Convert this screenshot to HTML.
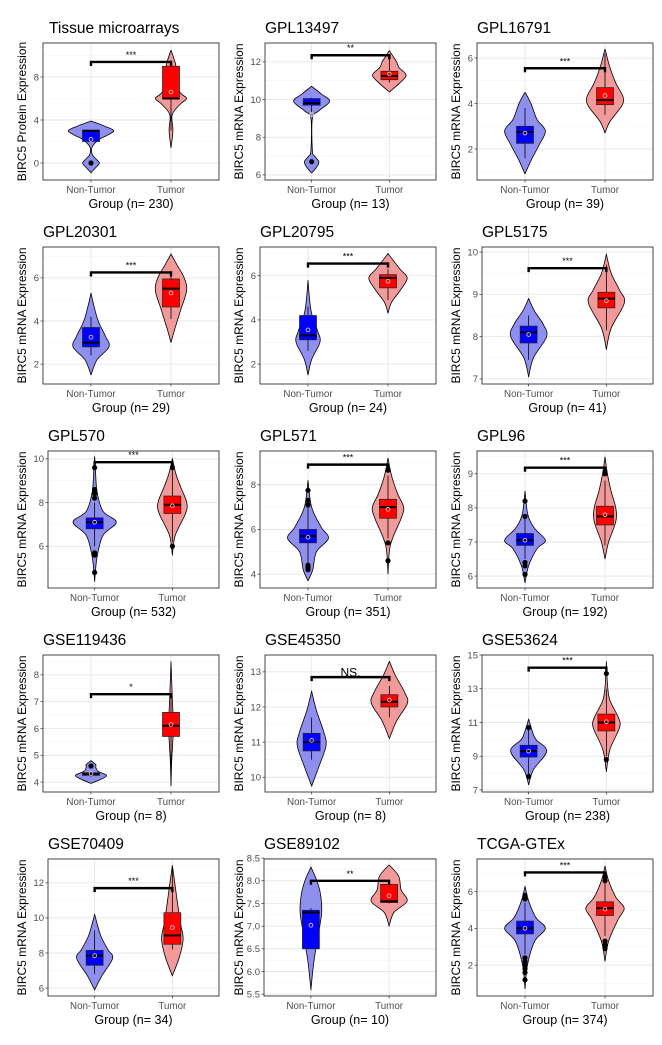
<!DOCTYPE html>
<html><head><meta charset="utf-8">
<style>
html,body{margin:0;padding:0;background:#fff;}
svg{display:block;font-family:"Liberation Sans",Arial,sans-serif;}
</style></head>
<body>
<svg id="fig" width="662" height="1045" viewBox="0 0 662 1045" xmlns="http://www.w3.org/2000/svg"></svg>
<script>
// ---- data ----
const titles = ["Tissue microarrays","GPL13497","GPL16791","GPL20301","GPL20795","GPL5175","GPL570","GPL571","GPL96","GSE119436","GSE45350","GSE53624","GSE70409","GSE89102","TCGA-GTEx"];
const sampleN = [230,13,39,29,24,41,532,351,192,8,8,238,34,10,374];
const yDomains = [[-1.58,11.16],[5.73,13.0],[0.64,6.66],[1.08,7.43],[1.1,7.3],[6.88,10.12],[4.09,10.36],[3.38,9.51],[5.65,9.67],[3.63,8.74],[9.58,13.48],[6.88,15.0],[5.55,13.36],[5.46,8.48],[0.32,7.78]];
const yTicks = [[0,4,8],[6,8,10,12],[2,4,6],[2,4,6],[2,4,6],[7,8,9,10],[6,8,10],[4,6,8],[6,7,8,9],[4,5,6,7,8],[10,11,12,13],[7,9,11,13,15],[6,8,10,12],[5.5,6,6.5,7,7.5,8,8.5],[2,4,6]];
const tickDecimals = [0,0,0,0,0,0,0,0,0,0,0,0,0,1,0];
const sigLabels = ["***","**","***","***","***","***","***","***","***","*","NS.","***","***","**","***"];
const bracketY = [9.4,12.35,5.55,6.25,6.55,9.62,9.85,8.9,9.18,7.28,12.85,14.25,11.7,8.0,7.05];
// violin knots: [value, relative density]
const violinNT = [
 [[-0.9,0],[-0.3,0.25],[0,0.35],[0.4,0.2],[0.8,0.05],[1.5,0.05],[2.2,0.35],[2.6,0.7],[3,0.95],[3.4,0.6],[3.9,0]],
 [[6.1,0],[6.4,0.2],[6.7,0.3],[7.0,0.12],[7.3,0.03],[9,0.03],[9.4,0.3],[9.9,0.75],[10.3,0.4],[10.7,0]],
 [[0.9,0],[1.5,0.25],[2.2,0.6],[2.8,0.85],[3.3,0.5],[4,0.25],[4.5,0]],
 [[1.5,0],[2.2,0.25],[2.8,0.75],[3.3,0.6],[4,0.3],[4.8,0.1],[5.3,0]],
 [[1.5,0],[2.2,0.15],[3,0.5],[3.5,0.4],[4.3,0.15],[5,0.06],[5.8,0]],
 [[7.05,0],[7.5,0.2],[8.0,0.75],[8.3,0.6],[8.6,0.25],[8.9,0]],
 [[4.4,0],[5.5,0.1],[6.5,0.35],[7.1,0.9],[7.6,0.35],[8.5,0.1],[9.6,0.03],[10.1,0]],
 [[3.7,0],[4.2,0.2],[5,0.35],[5.6,0.85],[6.1,0.55],[7,0.15],[8.2,0]],
 [[5.8,0],[6.3,0.15],[6.8,0.5],[7.05,0.85],[7.4,0.4],[7.8,0.12],[8.5,0]],
 [[3.95,0],[4.1,0.4],[4.25,0.65],[4.4,0.3],[4.55,0.2],[4.65,0.2],[4.8,0]],
 [[9.75,0],[10.3,0.3],[10.9,0.6],[11.3,0.5],[11.9,0.2],[12.45,0]],
 [[7.3,0],[8.2,0.2],[9.3,0.75],[10,0.3],[10.5,0.15],[11.2,0]],
 [[5.9,0],[6.7,0.3],[7.7,0.75],[8.2,0.55],[9.0,0.25],[10.2,0]],
 [[5.6,0],[6.2,0.12],[6.8,0.3],[7.3,0.45],[7.7,0.4],[8.0,0.25],[8.3,0]],
 [[0.7,0],[2,0.1],[3.3,0.4],[4,0.85],[4.6,0.45],[5.5,0.15],[6.3,0]]
];
const violinT = [
 [[1.4,0],[3,0.08],[4.5,0.05],[5.5,0.4],[6,0.65],[6.5,0.4],[7.5,0.15],[9,0.2],[9.5,0.15],[10.5,0]],
 [[10.4,0],[10.9,0.45],[11.3,0.7],[11.7,0.4],[12,0.3],[12.3,0.15],[12.6,0]],
 [[2.7,0],[3.2,0.2],[3.9,0.7],[4.3,0.75],[4.9,0.45],[5.6,0.2],[6.4,0]],
 [[3.0,0],[3.6,0.15],[4.5,0.4],[5.4,0.65],[6.0,0.55],[6.6,0.25],[7.1,0]],
 [[4.3,0],[4.8,0.15],[5.4,0.55],[5.9,0.8],[6.3,0.5],[7.0,0]],
 [[7.7,0],[8.2,0.2],[8.8,0.75],[9.1,0.55],[9.5,0.2],[9.95,0]],
 [[5.6,0],[6.5,0.12],[7.5,0.55],[8,0.6],[8.7,0.35],[9.3,0.15],[10.0,0]],
 [[4.0,0],[5.3,0.1],[6.5,0.55],[7.0,0.65],[7.6,0.4],[8.4,0.15],[9.2,0]],
 [[6.5,0],[7.0,0.15],[7.6,0.45],[8.0,0.45],[8.5,0.25],[9.0,0.1],[9.5,0]],
 [[3.85,0],[4.8,0.03],[5.6,0.08],[6.2,0.1],[7,0.06],[7.5,0.04],[8.5,0]],
 [[11.1,0],[11.6,0.3],[12.1,0.75],[12.4,0.65],[12.9,0.25],[13.3,0]],
 [[8.1,0],[9.4,0.15],[10.7,0.55],[11.3,0.5],[12.3,0.15],[13.2,0.05],[14.6,0]],
 [[6.7,0],[7.8,0.3],[8.8,0.45],[9.6,0.35],[10.5,0.25],[11.5,0.15],[13,0]],
 [[7.0,0],[7.3,0.2],[7.55,0.75],[7.8,0.5],[8.1,0.4],[8.35,0]],
 [[2.2,0],[3.3,0.15],[4.5,0.55],[5.1,0.8],[5.7,0.45],[6.6,0.15],[7.4,0]]
];
// box stats: [whiskerLo, q1, median, q3, whiskerHi, mean]
const boxNT = [[2,2,3,3,3,2.2],[9.3,9.7,9.8,10.05,10.1,9.2],[1.6,2.25,2.75,3.0,3.8,2.7],[2.4,2.8,3.0,3.7,4.2,3.25],[2.6,3.1,3.3,4.2,4.6,3.55],[7.45,7.85,8.1,8.25,8.5,8.05],[6.0,6.8,7.1,7.3,8.0,7.1],[4.5,5.4,5.7,6.0,7.0,5.65],[6.5,6.9,7.05,7.25,7.7,7.05],[4.2,4.25,4.3,4.35,4.4,4.32],[10.5,10.75,11.0,11.25,11.7,11.05],[7.9,8.95,9.3,9.65,10.6,9.3],[6.8,7.3,7.85,8.15,9.3,7.85],[6.5,6.5,7.3,7.35,7.4,7.02],[2.6,3.7,4.0,4.4,5.4,4.0]];
const boxT = [[3,6,6,9,9,6.6],[10.9,11.05,11.25,11.5,12.3,11.35],[3.5,3.95,4.15,4.7,6.2,4.35],[4.1,4.65,5.5,5.95,6.3,5.3],[4.9,5.45,5.9,6.05,6.3,5.75],[8.15,8.68,8.9,9.05,9.7,8.85],[6.2,7.5,7.9,8.3,9.5,7.85],[5.6,6.5,7.0,7.35,8.4,6.9],[6.9,7.5,7.75,8.05,8.8,7.8],[4.5,5.7,6.1,6.6,7.3,6.15],[11.7,12.0,12.15,12.35,12.6,12.2],[9.0,10.5,11.0,11.5,13.0,11.05],[8.2,8.5,9.0,10.3,12.9,9.45],[7.5,7.52,7.55,7.92,8.0,7.67],[3.6,4.7,5.1,5.45,6.5,5.05]];
const outliersNT = [[0],[6.7],[],[],[],[],[4.8,5.6,5.7,8.2,8.4,8.5,8.6,9.6],[4.2,4.3,4.4,7.1,7.3,7.75],[6.05,6.3,6.4,7.75,8.2],[4.6],[],[7.8,10.7],[],[],[1.2,1.6,1.8,2.0,2.2,2.4,5.6,5.8]];
const outliersT = [[],[],[],[],[],[],[6.0,9.6],[4.6,5.4,8.65],[9.0,9.05],[],[],[8.8,13.9],[],[],[2.9,3.1,3.3,6.6,6.8]];

// ---- drawing ----
const NS="http://www.w3.org/2000/svg";
const svg=document.getElementById('fig');
function el(tag,attrs,parent){const e=document.createElementNS(NS,tag);for(const k in attrs)e.setAttribute(k,attrs[k]);(parent||svg).appendChild(e);return e;}
function smoothPath(pts){let d="";for(let i=0;i<pts.length-1;i++){const p0=pts[Math.max(0,i-1)],p1=pts[i],p2=pts[i+1],p3=pts[Math.min(pts.length-1,i+2)];const c1=[p1[0]+(p2[0]-p0[0])/6,p1[1]+(p2[1]-p0[1])/6];const c2=[p2[0]-(p3[0]-p1[0])/6,p2[1]-(p3[1]-p1[1])/6];d+=` C${c1[0].toFixed(2)},${c1[1].toFixed(2)} ${c2[0].toFixed(2)},${c2[1].toFixed(2)} ${p2[0].toFixed(2)},${p2[1].toFixed(2)}`;}return d;}

for(let i=0;i<titles.length;i++){
  const r=Math.floor(i/3), c=i%3;
  const colX=c*217;
  const maxLab=Math.max(...yTicks[i].map(t=>t.toFixed(tickDecimals[i]).length));
  const extra=maxLab>=3?4:(maxLab===2?5:0);
  const L=colX+43+extra, R=219+c*217, T=43+r*204, B=180+r*204, W=R-L, H=B-T;
  const [d0,d1]=yDomains[i];
  const ys=v=>B-(v-d0)/(d1-d0)*H;
  const xs=k=>L+W*(k===0?0.6:1.6)/2.2;
  const g=el('g',{});
  
  
  const tk=yTicks[i], step=tk[1]-tk[0];
  for(let m=tk[0]-step/2;m<=d1;m+=step){ if(m>=d0){const y=ys(m);const ln=el('line',{x1:L,x2:R,y1:y,y2:y,stroke:'#f3f3f3','stroke-width':0.6},g);}}
  tk.forEach(t=>{const y=ys(t);const ln=el('line',{x1:L,x2:R,y1:y,y2:y,stroke:'#e6e6e6','stroke-width':0.9},g);
    const tl=el('text',{x:L-4,y:y+3.3,'text-anchor':'end','font-size':9.5,fill:'#4d4d4d'},g);tl.textContent=t.toFixed(tickDecimals[i]);
    el('line',{x1:L-2.5,x2:L,y1:y,y2:y,stroke:'#333','stroke-width':0.7},g);});
  [0,1].forEach(k=>{const ln=el('line',{x1:xs(k),x2:xs(k),y1:T,y2:B,stroke:'#e6e6e6','stroke-width':0.9},g);});
  [[violinNT[i],boxNT[i],outliersNT[i],'#8f8ff0','#0000ff','non-tumor'],[violinT[i],boxT[i],outliersT[i],'#f29999','#ff0000','tumor']].forEach((grp,k)=>{
    const [vk,bx,ol,vfill,bfill,nm]=grp; const cx=xs(k), MW=24;
    const right=vk.map(p=>[cx+p[1]*MW,ys(p[0])]);
    const left=vk.slice().reverse().map(p=>[cx-p[1]*MW,ys(p[0])]);
    const d="M"+right[0][0]+","+right[0][1]+smoothPath(right)+" L"+left[0][0]+","+left[0][1]+smoothPath(left)+"Z";
    const v=el('path',{d:d,fill:vfill,stroke:'#000','stroke-width':0.8},g);
    
    const wh=el('line',{x1:cx,x2:cx,y1:ys(bx[0]),y2:ys(bx[4]),stroke:'#000','stroke-width':0.8},g);
    
    const bw=8.5;
    const bxr=el('rect',{x:cx-bw,y:ys(bx[3]),width:2*bw,height:Math.max(0.5,ys(bx[1])-ys(bx[3])),fill:bfill,stroke:'#222','stroke-width':0.7},g);
    
    const md=el('line',{x1:cx-bw,x2:cx+bw,y1:ys(bx[2]),y2:ys(bx[2]),stroke:'#000','stroke-width':2},g);
    
    ol.forEach(o=>{const p=el('circle',{cx:cx,cy:ys(o),r:2.6,fill:'#000'},g);});
    const mn=el('circle',{cx:cx,cy:ys(bx[5]),r:1.9,fill:'none',stroke:'#ffd0d0','stroke-width':0.8},g);
    
  });
  const by=ys(bracketY[i]);
  const br=el('path',{d:`M${xs(0)},${by+4} L${xs(0)},${by} L${xs(1)},${by} L${xs(1)},${by+4}`,fill:'none',stroke:'#000','stroke-width':2.4},g);
  
  const ns=sigLabels[i]==='NS.';
  const sl=el('text',{x:(xs(0)+xs(1))/2,y:ns?by-0.5:by-4,'text-anchor':'middle','font-size':ns?12:9,fill:'#000'},g);
  sl.textContent=sigLabels[i];
  const bd=el('rect',{x:L,y:T,width:W,height:H,fill:'none',stroke:'#333','stroke-width':0.9},g);
  
  const tt=el('text',{x:L+(i===0?6:0),y:T-10,'font-size':15.5,fill:'#000'},g);tt.textContent=titles[i];
  
  ['Non-Tumor','Tumor'].forEach((s,k)=>{const t=el('text',{x:xs(k),y:B+13,'text-anchor':'middle','font-size':9.8,fill:'#4d4d4d'},g);t.textContent=s;
    el('line',{x1:xs(k),x2:xs(k),y1:B,y2:B+2.5,stroke:'#333','stroke-width':0.7},g);});
  const xt=el('text',{x:(L+R)/2,y:B+28,'text-anchor':'middle','font-size':12.5,fill:'#000'},g);xt.textContent='Group (n= '+sampleN[i]+')';
  
  const yx=colX+26, yc=(T+B)/2;
  const yt=el('text',{x:yx,y:yc,'text-anchor':'middle','font-size':12,fill:'#000',transform:`rotate(-90 ${yx} ${yc})`},g);
  yt.textContent=i===0?'BIRC5 Protein Expression':'BIRC5 mRNA Expression';
  
}
</script>
</body></html>
